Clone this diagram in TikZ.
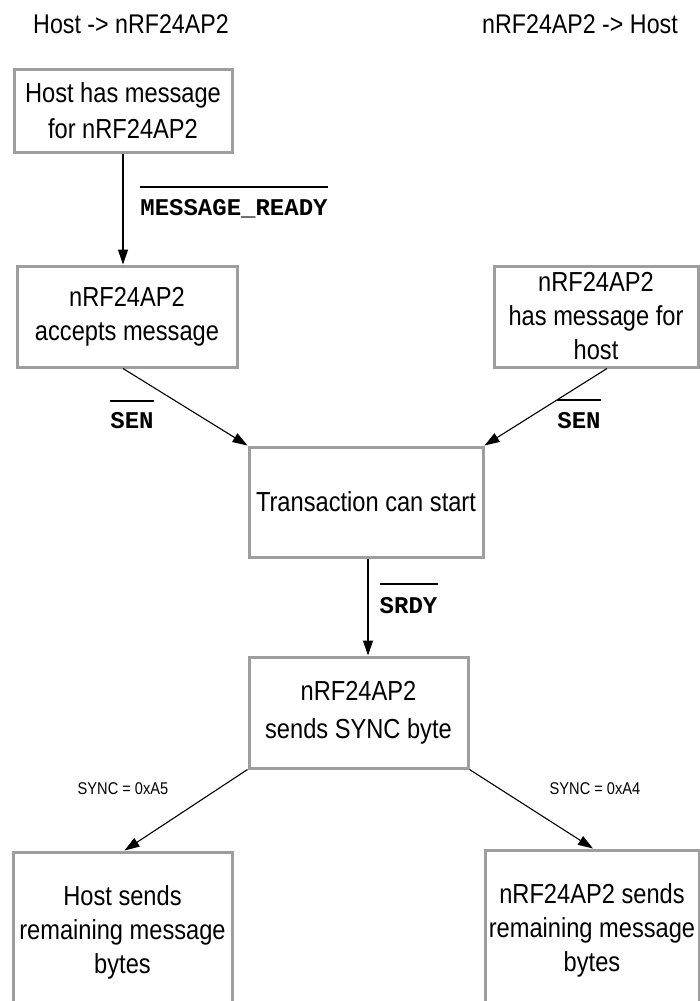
\documentclass[tikz,border=0pt]{standalone}
\usepackage{fontspec}
\setmainfont[FakeStretch=0.86]{Liberation Sans}
\newfontfamily\sigfont{Liberation Mono}
\usetikzlibrary{arrows.meta,calc}
\begin{document}
\begin{tikzpicture}[x=1pt,y=-1pt,
  box/.style={draw=boxgray,line width=3pt,fill=white,align=center,inner sep=0pt,
    font=\fontsize{27.5}{34}\selectfont},
  hdr/.style={font=\fontsize{27}{34}\selectfont,inner sep=0pt,anchor=base},
  sig/.style={font=\fontsize{24}{28}\selectfont\sigfont\bfseries,inner sep=0pt,anchor=base},
  ovl/.style={line width=2.6pt},
  small/.style={font=\fontsize{17}{20}\selectfont,inner sep=0pt},
  arr/.style={line width=1.1pt,-{Triangle[length=15pt,width=10pt]}}
]
\definecolor{boxgray}{RGB}{158,158,158}
\useasboundingbox (0,0) rectangle (699,1001);
\fill[white] (0,0) rectangle (699,1001);

% headers
\node[hdr] (h1) at (131,33) {Host -> nRF24AP2};
\node[hdr] (h2) at (580,33) {nRF24AP2 -> Host};

% boxes
\node[box,minimum width=218pt,minimum height=83pt,font=\fontsize{27.5}{36}\selectfont] (b1) at (123,110.5) {Host has message\\for nRF24AP2};
\node[box,minimum width=220pt,minimum height=101pt] (b2) at (127,316.5) {nRF24AP2\\accepts message};
\node[box,minimum width=204pt,minimum height=101pt] (b3) at (596,316.5) {nRF24AP2\\has message for\\host};
\node[box,minimum width=234pt,minimum height=110pt] (b4) at (366,502) {Transaction can start};
\node[box,minimum width=219pt,minimum height=111pt,font=\fontsize{27.5}{38}\selectfont] (b5) at (358.5,712.5) {nRF24AP2\\sends SYNC byte};
\node[box,minimum width=219pt,minimum height=160pt] (b6) at (122.5,932) {Host sends\\remaining message\\bytes};
\node[box,minimum width=214pt,minimum height=160pt] (b7) at (592,930) {nRF24AP2 sends\\remaining message\\bytes};

% connectors
\draw[arr] (b1.south) -- (b1.south |- b2.north);
\draw[arr] ($(b2.south)+(-4,0)$) -- (b4.north west);
\draw[arr] ($(b3.south)+(11,0)$) -- (b4.north east);
\draw[arr] ($(b4.south)+(2,0)$) -- ($(b4.south |- b5.north)+(2,0)$);
\draw[arr] (b5.south west) -- ($(b6.north)+(2,0)$);
\draw[arr] (b5.south east) -- ($(b7.north)+(1,0)$);

% signal labels
\node[sig] (lmr) at (234,215) {MESSAGE\_READY};
\draw[ovl] (lmr.west |- 0,187) -- (lmr.east |- 0,187);
\node[sig] (ls1) at (132,428) {SEN};
\draw[ovl] (ls1.west |- 0,401) -- (ls1.east |- 0,401);
\node[sig] (ls2) at (579,428) {SEN};
\draw[ovl] (ls2.west |- 0,400) -- (ls2.east |- 0,400);
\node[sig] (lsr) at (408.5,613) {SRDY};
\draw[ovl] (lsr.west |- 0,584) -- (lsr.east |- 0,584);

\node[small] (sa5) at (123,789) {SYNC = 0xA5};
\node[small] (sa4) at (595,789) {SYNC = 0xA4};
\end{tikzpicture}
\end{document}
